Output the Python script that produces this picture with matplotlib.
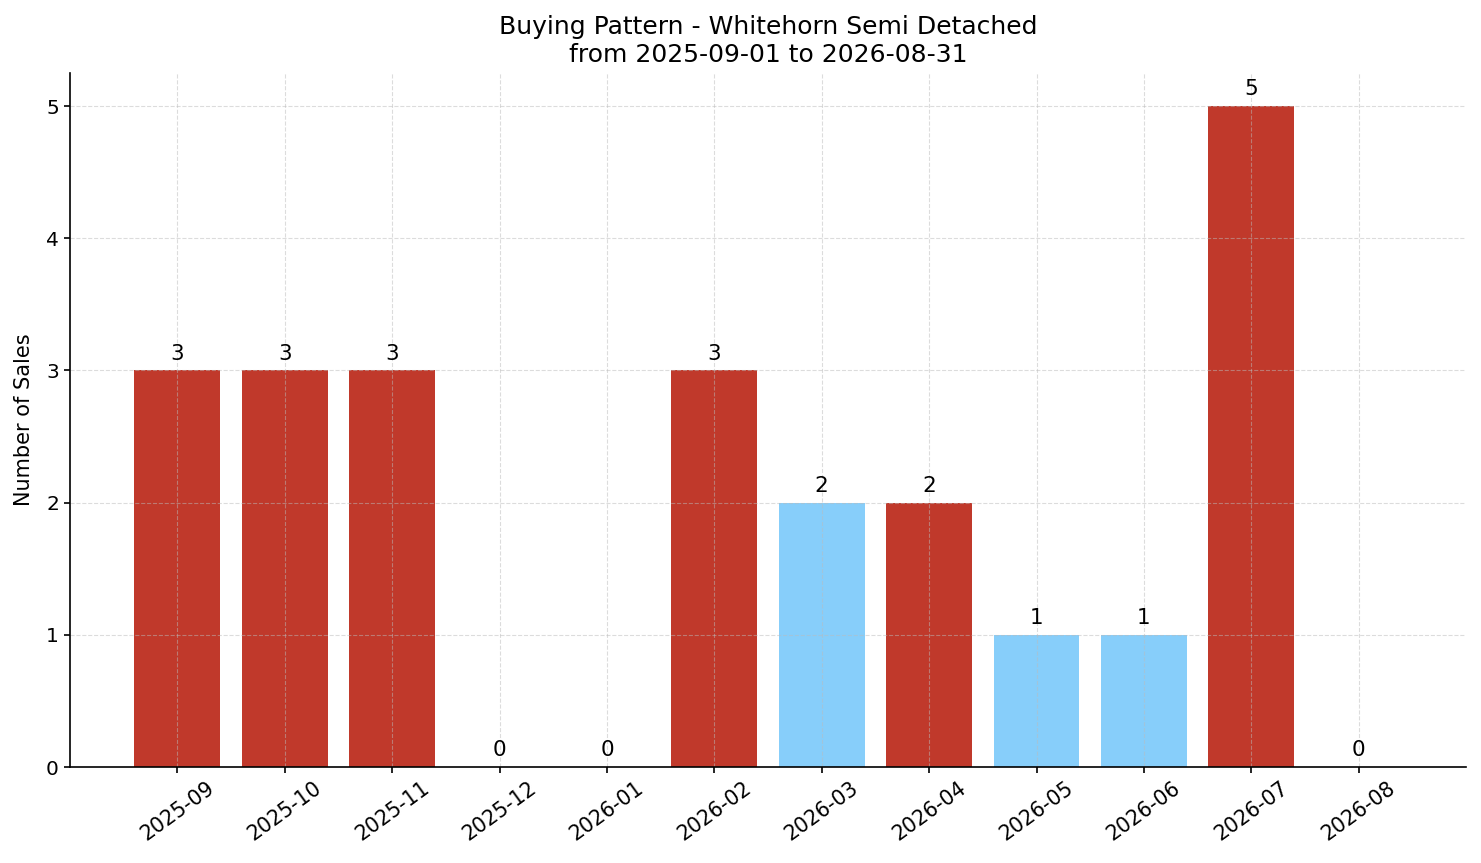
import matplotlib
matplotlib.use("Agg")
import matplotlib.pyplot as plt
import numpy as np

months = ["2025-09", "2025-10", "2025-11", "2025-12", "2026-01", "2026-02",
          "2026-03", "2026-04", "2026-05", "2026-06", "2026-07", "2026-08"]
sales = [3, 3, 3, 0, 0, 3, 2, 2, 1, 1, 5, 0]
highlight = [False, False, False, False, False, False,
             True, False, True, True, False, False]

RED = "#c0392b"
BLUE = "#87cefa"

fig = plt.figure(figsize=(14.81, 8.63), dpi=100)
ax = fig.add_axes([0.0473, 0.1112, 0.9426, 0.8042])

x = np.arange(len(months))
colors = [BLUE if h else RED for h in highlight]
ax.bar(x, sales, width=0.8, color=colors)

for xi, v in zip(x, sales):
    ax.annotate(str(v), (xi, v), xytext=(0, 5), textcoords="offset points",
                ha="center", va="bottom", fontsize=15.5)

ax.set_xticks(x)
ax.set_xticklabels(months, rotation=36, fontsize=14.8)
ax.tick_params(axis="y", labelsize=14.5)
ax.tick_params(length=4.5, width=1.2)
ax.set_yticks(range(0, 6))
ax.set_xlim(-1, 12)
ax.set_ylim(0, 5.25)
ax.set_ylabel("Number of Sales", fontsize=15, labelpad=9)
ax.set_title("Buying Pattern - Whitehorn Semi Detached\nfrom 2025-09-01 to 2026-08-31",
             fontsize=18, pad=8)
ax.grid(True, linestyle="--", alpha=0.5, color="#bbbbbb", linewidth=0.8)
ax.spines["top"].set_visible(False)
ax.spines["right"].set_visible(False)
for s in ("left", "bottom"):
    ax.spines[s].set_linewidth(1.2)

fig.savefig("out.png", dpi=100)
